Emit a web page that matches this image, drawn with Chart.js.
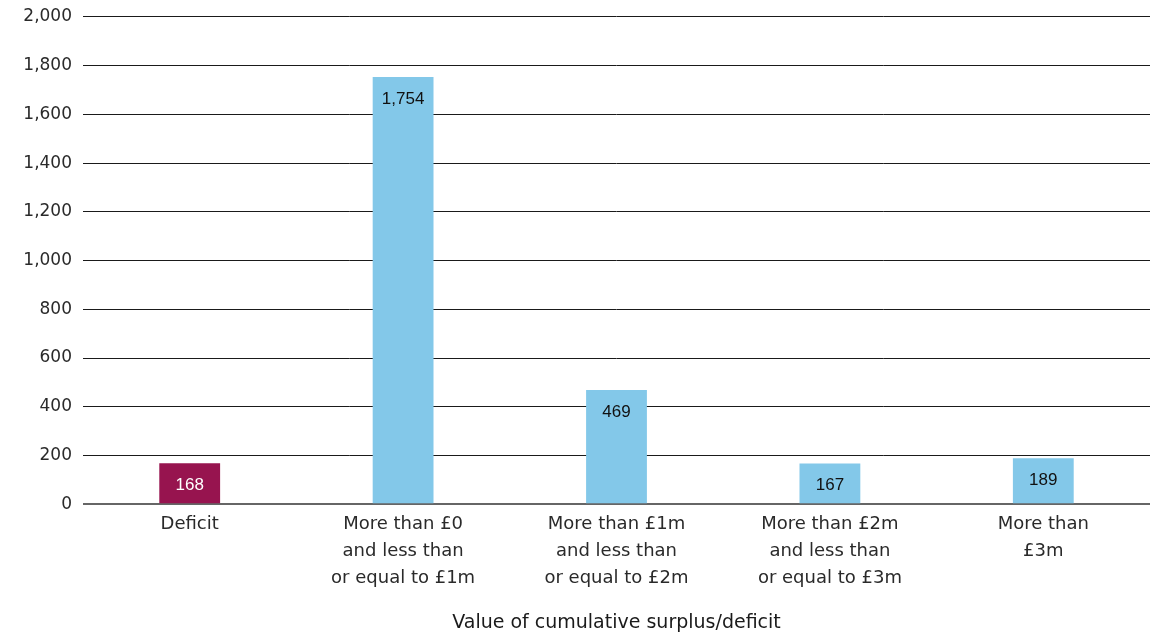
<!DOCTYPE html>
<html>
<head>
<meta charset="utf-8">
<script src="https://cdn.jsdelivr.net/npm/chart.js@4/dist/chart.umd.min.js"></script>
<style>
  html, body { margin: 0; padding: 0; background: #fff; }
  #wrap { width: 1156px; height: 632px; position: relative; }
</style>
</head>
<body>
<div id="wrap"><canvas id="surplusChart"></canvas></div>
<script>
const categories = [
    ['Deficit'],
    ['More than £0', 'and less than', 'or equal to £1m'],
    ['More than £1m', 'and less than', 'or equal to £2m'],
    ['More than £2m', 'and less than', 'or equal to £3m'],
    ['More than', '£3m']
];
const counts = [168, 1754, 469, 167, 189];
const barColours = ['#97144f', '#83c8e9', '#83c8e9', '#83c8e9', '#83c8e9'];
const labelColours = ['#ffffff', '#111111', '#111111', '#111111', '#111111'];
const axisTitle = 'Value of cumulative surplus/deficit';

const fontFamily = '"DejaVu Sans", Verdana, sans-serif';
const labelFont = '"Liberation Sans", Arial, sans-serif';

// etiquetas dentro de la barra, cerca del borde superior
const barLabels = {
    id: 'barLabels',
    afterDatasetsDraw(chart) {
        const ctx = chart.ctx;
        const meta = chart.getDatasetMeta(0);
        ctx.save();
        ctx.font = '17px ' + labelFont;
        ctx.textAlign = 'center';
        ctx.textBaseline = 'middle';
        meta.data.forEach((bar, i) => {
            ctx.fillStyle = labelColours[i];
            ctx.fillText(counts[i].toLocaleString('en-GB'), bar.x, bar.y + 22);
        });
        ctx.restore();
    }
};

const ctx = document.getElementById('surplusChart').getContext('2d');
new Chart(ctx, {
    type: 'bar',
    data: {
        labels: categories,
        datasets: [{
            data: counts,
            backgroundColor: barColours,
            barPercentage: 0.57,
            categoryPercentage: 0.5
        }]
    },
    options: {
        responsive: true,
        maintainAspectRatio: false,
        animation: false,
        layout: { padding: { top: 0, right: 6, left: 0, bottom: 0 } },
        plugins: {
            legend: { display: false },
            tooltip: { enabled: false }
        },
        scales: {
            x: {
                grid: { display: false },
                border: { display: false },
                ticks: {
                    color: '#2a2a2a',
                    font: { family: fontFamily, size: 18, lineHeight: 1.5 },
                    padding: -1,
                    maxRotation: 0,
                    autoSkip: false
                },
                title: {
                    display: true,
                    text: axisTitle,
                    color: '#1a1a1a',
                    font: { family: fontFamily, size: 19 },
                    padding: { top: 20, bottom: -2 }
                }
            },
            y: {
                min: 0,
                max: 2000,
                border: { display: false },
                afterFit: (s) => { s.width = 83; },
                grid: {
                    color: (c) => c.tick && c.tick.value === 0 ? '#666' : '#1a1a1a',
                    lineWidth: (c) => c.tick && c.tick.value === 0 ? 2 : 1,
                    drawTicks: false
                },
                ticks: {
                    stepSize: 200,
                    color: '#2a2a2a',
                    padding: 11,
                    font: { family: fontFamily, size: 17, lineHeight: 0.7 },
                    callback: (v) => v.toLocaleString('en-GB')
                }
            }
        }
    },
    plugins: [barLabels]
});
</script>
</body>
</html>
